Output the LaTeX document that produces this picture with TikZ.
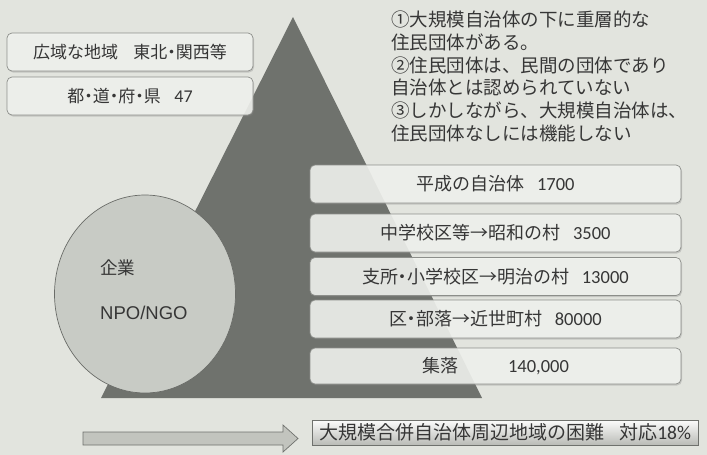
\documentclass[tikz,border=0pt]{standalone}
\usepackage{fontspec}
\setmainfont{Noto Sans CJK JP}
\newfontfamily\pfont[RawFeature=+palt]{Noto Sans CJK JP}
\newfontfamily\numf{Carlito}
\newfontfamily\arf{Liberation Sans}
\newcommand\nd{{\pfont ・}}
\usetikzlibrary{shapes.geometric,shadows}
\definecolor{bg}{HTML}{E2E4DE}
\definecolor{tri}{HTML}{6F726D}
\definecolor{boxfill}{HTML}{F2F4F0}
\definecolor{boxline}{HTML}{8C8E8A}
\definecolor{circfill}{HTML}{C8CBC5}
\definecolor{circline}{HTML}{6A6C68}
\definecolor{txt}{HTML}{363636}
\definecolor{arrfill}{HTML}{C2C4BE}
\definecolor{arrline}{HTML}{6F716D}
\tikzset{
  rbox/.style={draw=boxline, fill=boxfill, fill opacity=0.88, text opacity=1,
    rounded corners=5pt, line width=0.7pt,
    drop shadow={opacity=0.3, shadow xshift=1pt, shadow yshift=-1.5pt},
    inner sep=0pt, text=txt, font=\fontsize{18}{20}\selectfont},
  leftbox/.style={rbox, minimum width=246pt, minimum height=38pt, font=\fontsize{17}{20}\selectfont},
  rightbox/.style={rbox, minimum width=371pt, minimum height=38pt},
  noteline/.style={anchor=base west, inner sep=0pt, text=txt, font=\fontsize{18.5}{22}\selectfont},
  circtext/.style={anchor=base west, inner sep=0pt, text=txt},
}
\begin{document}
\begin{tikzpicture}[x=1pt, y=-1pt]
\useasboundingbox (0,0) rectangle (707,455);
\fill[bg] (0,0) rectangle (707,455);
% pyramid
\fill[tri] (293,17) -- (482,398) -- (101,398) -- cycle;
% circle
\node[ellipse, draw=circline, fill=circfill, line width=0.7pt,
      minimum width=181pt, minimum height=198pt, inner sep=0pt] (circ) at (145,294) {};
\node[circtext, font=\fontsize{17.5}{20}\selectfont] (kigyo) at (100,274.5) {企業};
\node[circtext, font=\fontsize{18.5}{20}\arf] (npo) at (100,319.5) {NPO/NGO};
% left boxes
\node[leftbox] (wide) at (130,52) {広域な地域\hspace{0.9em}東北\nd 関西等};
\node[leftbox] (pref) at (130,96) {都\nd 道\nd 府\nd 県\hspace{0.8em}{\numf\fontsize{18}{20}\selectfont 47}};
% right boxes
\node[rightbox] (r1) at (495.5,184) {平成の自治体\hspace{0.7em}{\numf\fontsize{18.5}{20}\selectfont 1700}};
\node[rightbox] (r2) at (495.5,233) {中学校区等→昭和の村\hspace{0.7em}{\numf\fontsize{18.5}{20}\selectfont 3500}};
\node[rightbox] (r3) at (495.5,276.5) {支所\nd 小学校区→明治の村\hspace{0.7em}{\numf\fontsize{18.5}{20}\selectfont 13000}};
\node[rightbox] (r4) at (495.5,319) {区\nd 部落→近世町村\hspace{0.7em}{\numf\fontsize{18.5}{20}\selectfont 80000}};
\node[rightbox, minimum height=36pt] (r5) at (495.5,366) {集落\hspace{50pt}{\numf\fontsize{18.5}{20}\selectfont 140,000}};
% notes
\node[noteline] (n1) at (391,27) {①大規模自治体の下に重層的な};
\node[noteline] (n2) at (391,49.6) {住民団体がある。};
\node[noteline] (n3) at (391,72.2) {②住民団体は、民間の団体であり};
\node[noteline] (n4) at (391,94.8) {自治体とは認められていない};
\node[noteline] (n5) at (391,117.4) {③しかしながら、大規模自治体は、};
\node[noteline] (n6) at (391,140) {住民団体なしには機能しない};
% block arrow
\draw[arrline, fill=arrfill, line width=0.7pt]
  (83,432) -- (283,432) -- (283,425) -- (298,438.5) -- (283,452) -- (283,445) -- (83,445) -- cycle;
% bottom box
\node[draw=arrline, line width=0.7pt, top color=white!90!bg, bottom color=black!18!bg,
      minimum width=386pt, minimum height=25pt, inner sep=0pt, text=txt,
      font=\fontsize{19}{20}\selectfont] (diff) at (505,432.5)
      {大規模合併自治体周辺地域の困難\hspace{0.8em}対応{\numf\fontsize{19.5}{20}\selectfont 18\%}};
\end{tikzpicture}
\end{document}
